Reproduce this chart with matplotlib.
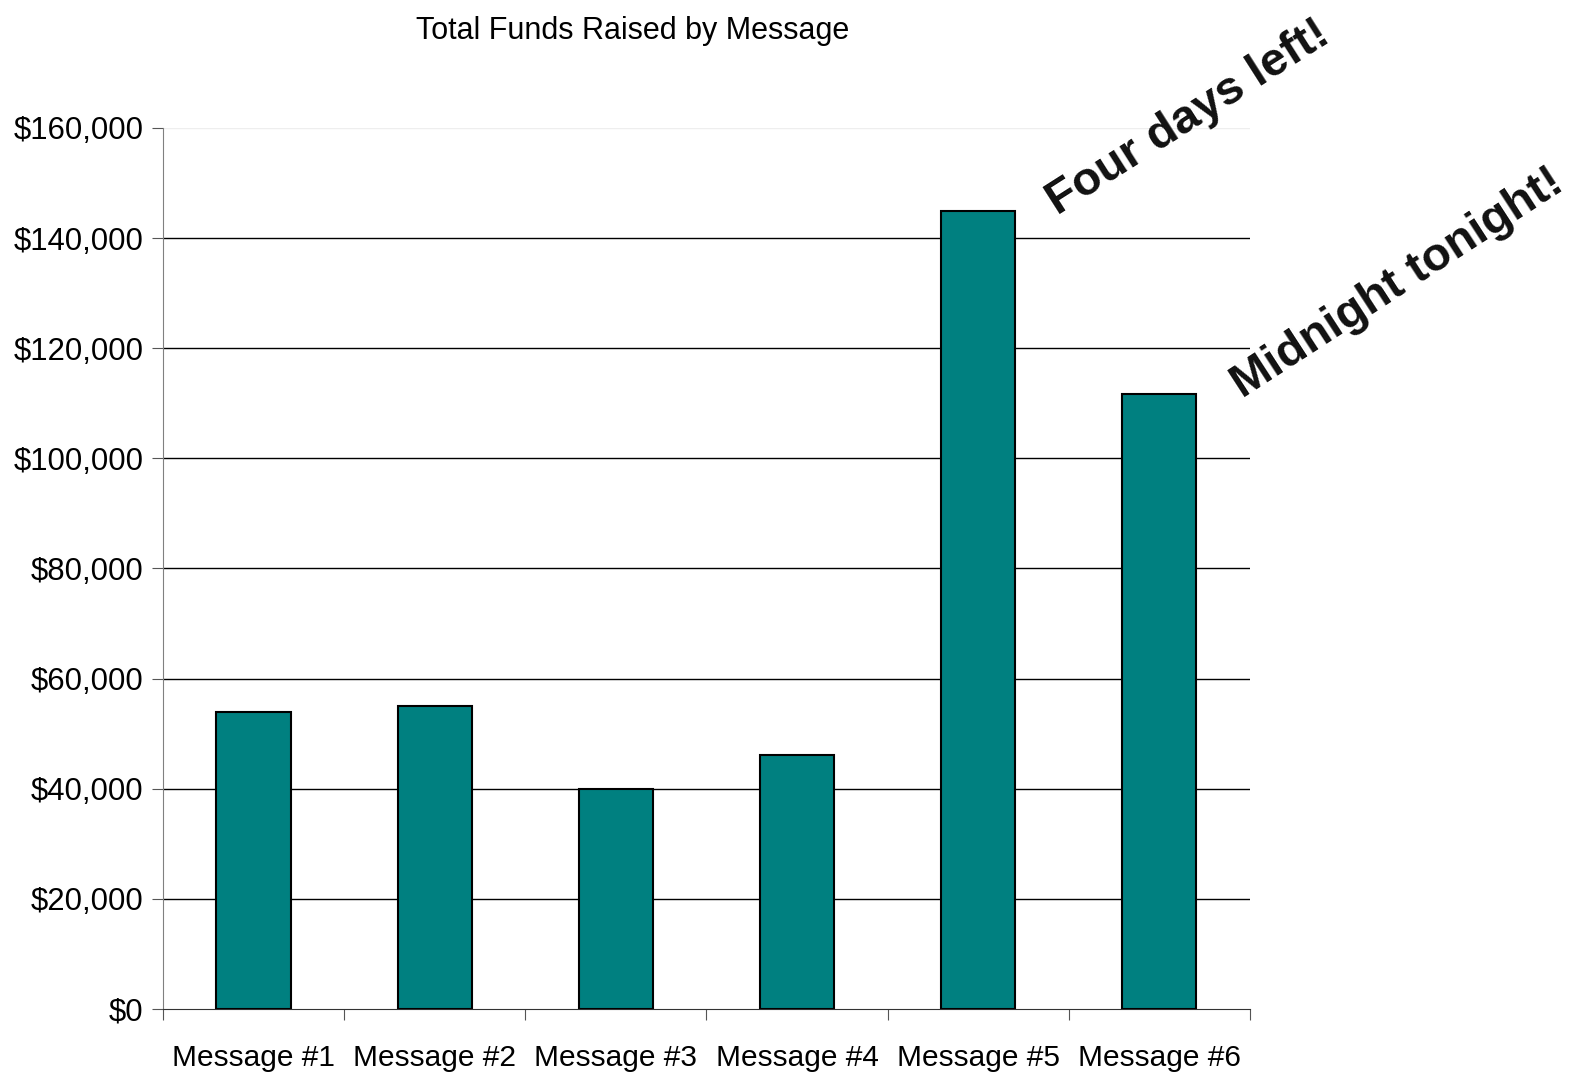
import matplotlib.pyplot as plt
from matplotlib.ticker import FuncFormatter

plt.rcParams['font.family'] = ['Liberation Sans', 'DejaVu Sans']

# 資料
messages = ['Message #1', 'Message #2', 'Message #3', 'Message #4', 'Message #5', 'Message #6']
funds = [54000, 55000, 40000, 46100, 145000, 111700]

fig = plt.figure(figsize=(15.78, 10.78), dpi=100)
ax = fig.add_axes([0.1033, 0.064, 0.6888, 0.8173])

x = range(len(messages))
ax.bar(x, funds, width=0.41, color='#008080', edgecolor='black', linewidth=1.5, zorder=3)

ax.set_xlim(-0.5, len(messages) - 0.5)
ax.set_ylim(0, 160000)
ax.set_yticks(range(0, 160001, 20000))
ax.yaxis.set_major_formatter(FuncFormatter(lambda v, p: '${:,.0f}'.format(v)))

# 格線
for v in range(20000, 160000, 20000):
    ax.axhline(v, color='black', linewidth=1, zorder=1)
ax.axhline(160000, color='#eeeeee', linewidth=1, zorder=1)

# 類別刻度在分界
ax.set_xticks([i - 0.5 for i in range(len(messages) + 1)], minor=False)
ax.set_xticklabels([])
ax.set_xticks(list(x), minor=True)
ax.set_xticklabels(messages, minor=True, fontsize=21.5)
ax.tick_params(axis='x', which='major', length=8, color='#555555', direction='out')
ax.tick_params(axis='x', which='minor', length=0, pad=25)
ax.tick_params(axis='y', length=8, color='#555555', labelsize=22.4, pad=6)

for s in ['top', 'right']:
    ax.spines[s].set_visible(False)
ax.spines['left'].set_color('#808080')
ax.spines['bottom'].set_color('#333333')

fig.text(0.4006, 0.971, 'Total Funds Raised by Message', ha='center', va='center', fontsize=22)

ax.text(4.44, 144000, 'Four days left!', fontsize=34, fontweight='bold', color='#111111',
        rotation=32.5, rotation_mode='anchor', ha='left', va='baseline', clip_on=False)
ax.text(5.46, 110800, 'Midnight tonight!', fontsize=34, fontweight='bold', color='#111111',
        rotation=33, rotation_mode='anchor', ha='left', va='baseline', clip_on=False)

plt.savefig('out.png', dpi=100)
